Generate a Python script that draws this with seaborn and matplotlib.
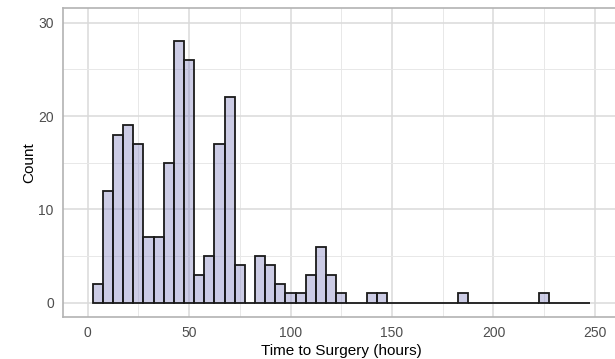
import numpy as np
import pandas as pd
import matplotlib
matplotlib.use("Agg")
import matplotlib.pyplot as plt
import seaborn as sns

# histogram counts per 5-hour bin (bin centres in hours)
bin_centers = [5, 10, 15, 20, 25, 30, 35, 40, 45, 50,
               55, 60, 65, 70, 75, 80, 85, 90, 95, 100,
               105, 110, 115, 120, 125, 130, 135, 140, 145, 150,
               155, 160, 165, 170, 175, 180, 185, 190, 195, 200,
               205, 210, 215, 220, 225, 230, 235, 240, 245]
counts = [2, 12, 18, 19, 17, 7, 7, 15, 28, 26,
          3, 5, 17, 22, 4, 0, 5, 4, 2, 1,
          1, 3, 6, 3, 1, 0, 0, 1, 1, 0,
          0, 0, 0, 0, 0, 0, 1, 0, 0, 0,
          0, 0, 0, 0, 1, 0, 0, 0, 0]
x_ticks = [0, 50, 100, 150, 200, 250]
y_ticks = [0, 10, 20, 30]

df = pd.DataFrame({"hours": bin_centers, "n": counts})

sns.set_style("white")
plt.rcParams["font.family"] = ["Liberation Sans", "DejaVu Sans"]

fig = plt.figure(figsize=(6.15, 3.59), dpi=100)
ax = fig.add_axes([0.1029, 0.1178, 0.904, 0.859])

# ggplot-like light theme grid
for v in [25, 75, 125, 175, 225]:
    ax.axvline(v, color="#e8e8e8", lw=0.7, zorder=0)
for v in x_ticks:
    ax.axvline(v, color="#dadada", lw=1.1, zorder=0)
for v in [5, 15, 25]:
    ax.axhline(v, color="#e8e8e8", lw=0.7, zorder=0)
for v in y_ticks:
    ax.axhline(v, color="#dadada", lw=1.1, zorder=0)

sns.histplot(data=df, x="hours", weights="n", binwidth=5, binrange=(2.5, 247.5),
             color="#8080c0", alpha=0.4, edgecolor="#1a1a1a", linewidth=1.3, ax=ax,
             zorder=2)

ax.set_xlim(-12, 262)
ax.set_ylim(-1.5, 31.55)
ax.set_xticks(x_ticks)
ax.set_yticks(y_ticks)
ax.tick_params(axis="both", length=3.6, width=0.8, color="#b3b3b3", pad=3.2,
               labelsize=10, labelcolor="#4d4d4d")

for side, sp in ax.spines.items():
    sp.set_visible(True)
    sp.set_color("#b3b3b3")
    sp.set_linewidth(1.2)

ax.set_xlabel("Time to Surgery (hours)", fontsize=11, color="black", labelpad=3)
ax.set_ylabel("Count", fontsize=11, color="black", labelpad=1.5)

fig.savefig("out.png", dpi=100)
